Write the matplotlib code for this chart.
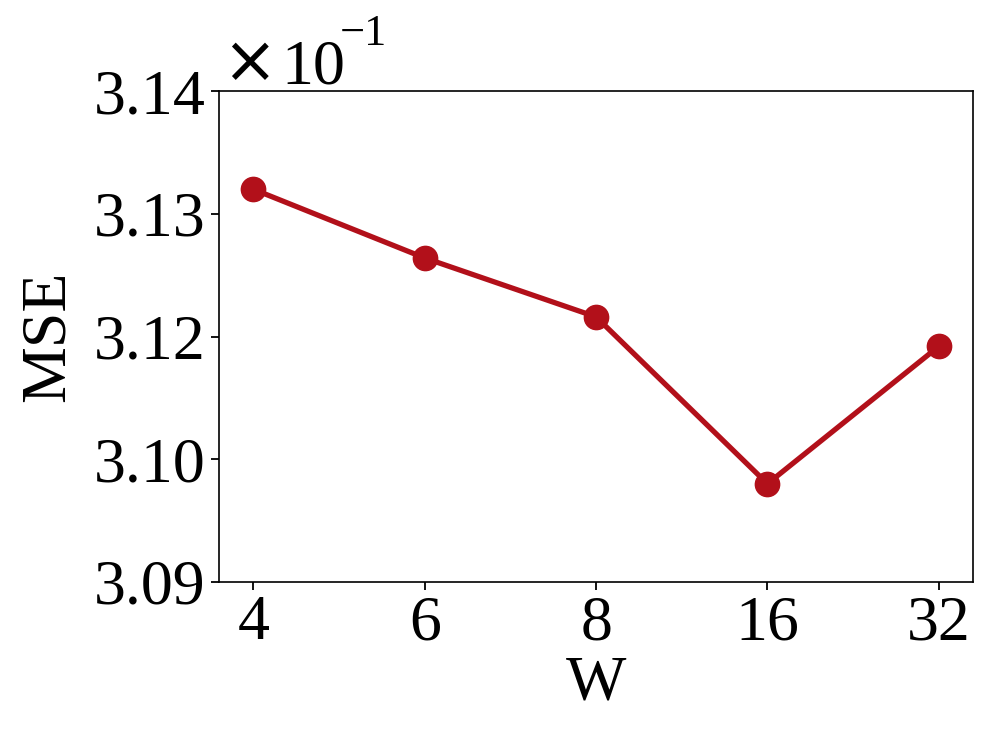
import numpy as np
import matplotlib
matplotlib.use('Agg')
import matplotlib.pyplot as plt

w_labels = ['4', '6', '8', '16', '32']
mse = [0.3130, 0.3123, 0.3117, 0.3100, 0.3114]
ytick_labels = ['3.09', '3.10', '3.12', '3.13', '3.14']

plt.rcParams['font.family'] = ['Liberation Serif', 'DejaVu Sans']

W, H = 996, 747
fig = plt.figure(figsize=(W / 100, H / 100), dpi=100)
ax = fig.add_axes([0.22, 0.221, 0.757, 0.657])

x = np.arange(len(w_labels))
ax.plot(x, mse, 'o-', color='#B2101A', lw=3.8, markersize=17.5)

ax.set_xticks(x)
ax.set_xticklabels(w_labels)
ax.set_xlim(-0.2, 4.2)
ax.set_ylim(0.309, 0.314)
ax.set_yticks(np.linspace(0.309, 0.314, len(ytick_labels)))
ax.set_yticklabels(ytick_labels)

ax.tick_params(labelsize=46, width=1.3, length=6)
for s in ax.spines.values():
    s.set_linewidth(1.2)

# offset text "x10^-1" built by hand (sans times sign, serif digits)
fig.text(222 / W, 1 - 64 / H, '\u00d7', family='DejaVu Sans', fontsize=47,
         ha='left', va='center')
fig.text(281 / W, 1 - 83 / H, '10', fontsize=46, ha='left', va='baseline')
fig.text(340 / W, 1 - 45 / H, '\u22121', fontsize=32, ha='left', va='baseline')

ax.set_xlabel('W', fontsize=46, labelpad=2)
ax.set_ylabel('MSE', fontsize=46, labelpad=12)

fig.savefig('out.png', dpi=100)
